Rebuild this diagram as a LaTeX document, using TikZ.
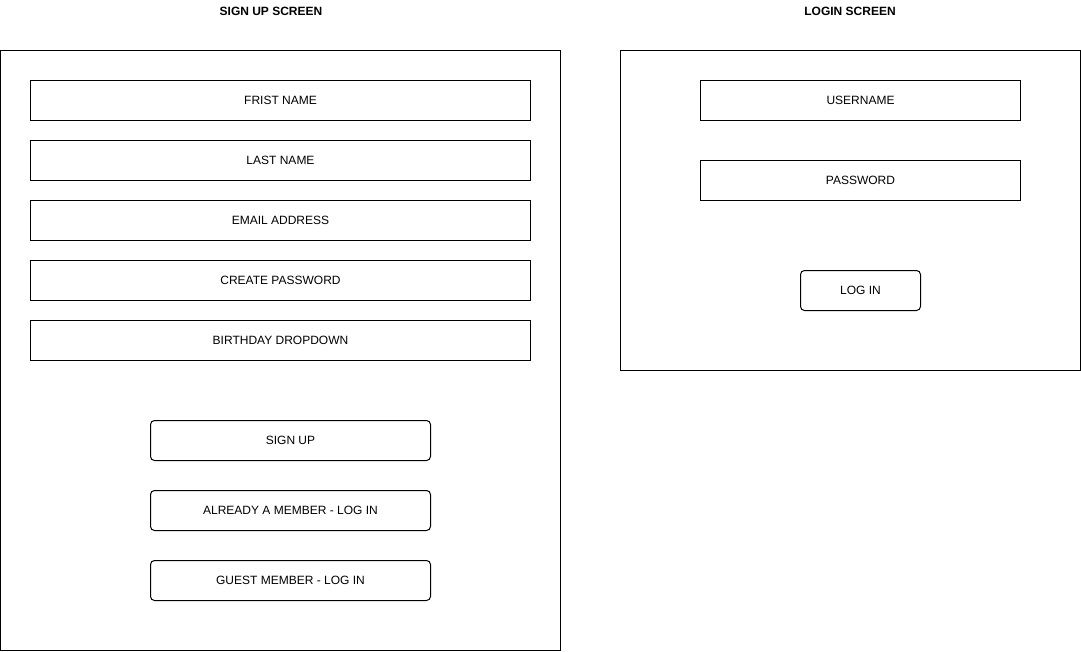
\documentclass[tikz,border=0pt]{standalone}
\usepackage{fontspec}
\setmainfont{Liberation Sans}
\usetikzlibrary{positioning}

\begin{document}
\begin{tikzpicture}
  [x=0.75pt, y=-0.75pt, line width=0.75pt,
  every node/.style={inner sep=0pt, outer sep=0pt, font=\fontsize{9}{10}\selectfont},
  field/.style={draw, minimum width=375pt, minimum height=30pt},
  loginfield/.style={draw, minimum width=240pt, minimum height=30pt},
  button/.style={draw, rounded corners=3pt, minimum width=210pt, minimum height=30pt},
  title/.style={font=\fontsize{9}{10}\bfseries\selectfont},
 ]
  \useasboundingbox (0,0) rectangle (1081,651);
  % sign up screen
  \node[title] (signuptitle) at (271,11) {SIGN UP SCREEN};
  \draw (0.5,50.5) rectangle (560.5,650.5);
  \node[field] (firstname) at (280.5,100.5) {FRIST NAME};
  \node[field, below=15pt of firstname] (lastname) {LAST NAME};
  \node[field, below=15pt of lastname] (email) {EMAIL ADDRESS};
  \node[field, below=15pt of email] (password) {CREATE PASSWORD};
  \node[field, below=15pt of password] (birthday) {BIRTHDAY DROPDOWN};
  \node[button] (signup) at (290.5,440.5) {SIGN UP};
  \node[button, below=22.5pt of signup] (member) {ALREADY A MEMBER - LOG IN};
  \node[button, below=22.5pt of member] (guest) {GUEST MEMBER - LOG IN};
  % login screen
  \node[title] (logintitle) at (850,11) {LOGIN SCREEN};
  \draw (620.5,50.5) rectangle (1080.5,370.5);
  \node[loginfield] (username) at (860.5,100.5) {USERNAME};
  \node[loginfield, below=30pt of username] (loginpass) {PASSWORD};
  \node[draw, rounded corners=3pt, minimum width=90pt, minimum height=30pt] (login) at (860.5,290.5) {LOG IN};
\end{tikzpicture}
\end{document}
